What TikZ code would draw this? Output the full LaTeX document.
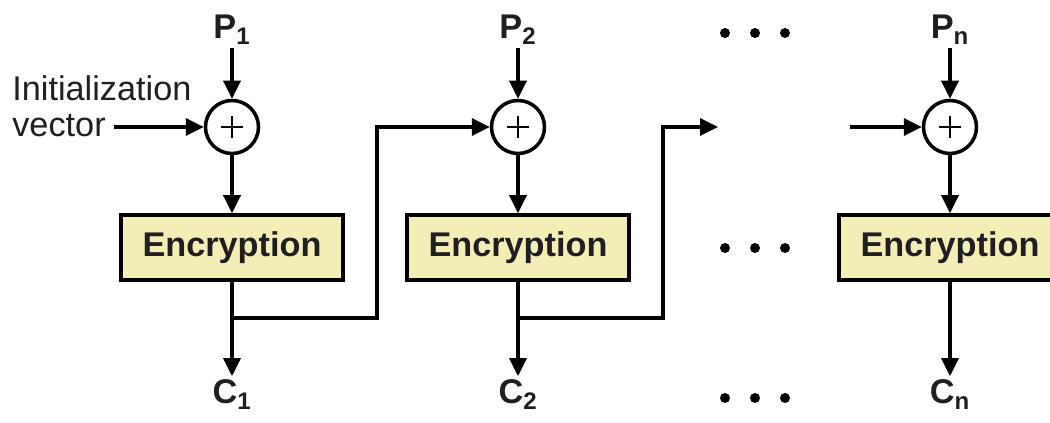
\documentclass[tikz,border=0pt]{standalone}
\usepackage{fontspec}
\setmainfont{Liberation Sans}
\usetikzlibrary{arrows.meta}
\definecolor{encfill}{RGB}{242,238,182}

\begin{document}
\begin{tikzpicture}[
    every node/.style={font=\fontsize{19.5}{23}\selectfont, text=black!88},
    lbl/.style={font=\fontsize{19.5}{23}\selectfont\bfseries, inner sep=2pt},
    enc/.style={draw, line width=0.7mm, fill=encfill, minimum width=4.44cm,
                minimum height=1.3cm, font=\fontsize{19.5}{23}\selectfont\bfseries},
    xor/.style={draw, circle, line width=0.7mm, minimum size=1.06cm, inner sep=0pt,
                path picture={
                    \draw[line width=0.55mm] (path picture bounding box.center)
                        ++(-0.22,0) -- ++(0.44,0) ++(-0.22,-0.22) -- ++(0,0.44);}},
    wire/.style={line width=0.7mm, -{Triangle[length=3.6mm,width=3.4mm]}},
    plain/.style={line width=0.7mm}]
    %%%%% START %%%%%
    \useasboundingbox (0,0) rectangle (21,8.46);

    % three stages: 1, 2 and n
    \foreach \col/\x in {1/4.64, 2/10.36, n/19.0} {
        \node[lbl, anchor=base] (p\col) at (\x, 7.68) {P\textsubscript{\col}};
        \node[xor] (x\col) at (\x, 5.92) {};
        \node[enc] (e\col) at (\x, 3.51) {Encryption};
        \node[lbl, anchor=base] (c\col) at (\x, 0.38) {C\textsubscript{\col}};
        \coordinate (t\col) at (\x, 2.1);
        \draw[wire] (p\col) -- (x\col);
        \draw[wire] (x\col) -- (e\col);
        \draw[plain] (e\col) -- (t\col);
        \draw[wire] (t\col) -- (c\col);
    }

    % initialization vector into the first stage
    \node[anchor=base west, inner sep=0pt] (ivtop) at (0.24, 6.44) {Initialization};
    \node[anchor=base west, inner sep=0pt] (iv) at (0.24, 5.72) {vector};
    \draw[wire] ([xshift=0.16cm]iv.east |- x1) -- (x1);

    % chaining of the ciphertext
    \draw[wire] (t1) -- ++(2.9,0) |- (x2);
    \coordinate (open2) at (14.36, 5.92);
    \draw[wire] (t2) -- ++(2.9,0) |- (open2);
    \coordinate (inn) at (17.0, 5.92);
    \draw[wire] (inn) -- (xn);

    % ellipsis dots
    \foreach \y in {7.8, 3.5, 0.5}
        \foreach \x in {14.5, 15.1, 15.7}
            \fill (\x, \y) circle (0.1);
    %%%%% END %%%%%
\end{tikzpicture}
\end{document}
